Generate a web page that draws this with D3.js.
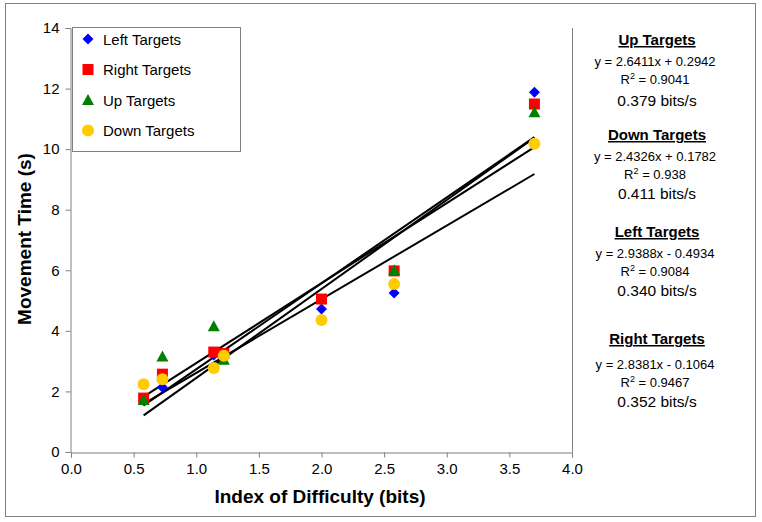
<!DOCTYPE html>
<html><head><meta charset="utf-8">
<script src="https://cdn.jsdelivr.net/npm/d3@7"></script>
<style>
html,body{margin:0;padding:0;background:#fff;}
text{font-family:Arial,"Liberation Sans",sans-serif;}
</style></head>
<body>
<svg id="chart" width="762" height="522"></svg>
<script>
const seriesNames = ["Left Targets","Right Targets","Up Targets","Down Targets"];
const seriesColors = ["#0000FF","#FF0000","#008000","#FFCC00"];
const seriesShapes = ["diamond","square","triangle","circle"];
const leftX = [0.58,0.73,1.14,1.22,2.0,2.58,3.70];
const leftY = [1.70,2.14,3.20,3.10,4.72,5.25,11.88];
const rightX = [0.58,0.73,1.14,1.22,2.0,2.58,3.70];
const rightY = [1.78,2.57,3.30,3.25,5.05,5.98,11.49];
const upX = [0.58,0.73,1.14,1.22,2.58,3.70];
const upY = [1.72,3.15,4.15,3.05,6.00,11.22];
const downX = [0.58,0.73,1.14,1.22,2.0,2.58,3.70];
const downY = [2.24,2.40,2.77,3.18,4.36,5.55,10.18];
const slopes = [2.9388,2.8381,2.6411,2.4326];
const intercepts = [-0.4934,-0.1064,0.2942,0.1782];
const xTicks = [0,0.5,1,1.5,2,2.5,3,3.5,4];
const yTicks = [0,2,4,6,8,10,12,14];
// side annotations (Up, Down, Left, Right order)
const annTitles = ["Up Targets","Down Targets","Left Targets","Right Targets"];
const annEq = ["y = 2.6411x + 0.2942","y = 2.4326x + 0.1782","y = 2.9388x - 0.4934","y = 2.8381x - 0.1064"];
const annR2 = ["0.9041","0.938","0.9084","0.9467"];
const annTP = ["0.379 bits/s","0.411 bits/s","0.340 bits/s","0.352 bits/s"];

const xs = [leftX,rightX,upX,downX], ys=[leftY,rightY,upY,downY];
const svg = d3.select("#chart");
svg.append("rect").attr("x",5.5).attr("y",3.5).attr("width",750).attr("height",513)
  .attr("fill","#fff").attr("stroke","#808080").attr("stroke-width",1);

const x = d3.scaleLinear().domain([0,4]).range([71,572]);
const y = d3.scaleLinear().domain([0,14]).range([452,28]);

svg.append("line").attr("x1",572.5).attr("x2",572.5).attr("y1",28).attr("y2",452).attr("stroke","#808080");

const gx = svg.append("g").attr("transform","translate(0,452.5)")
  .call(d3.axisBottom(x).tickValues(xTicks).tickFormat(d3.format(".1f")).tickSizeOuter(0).tickSize(5).tickPadding(6));
const gy = svg.append("g").attr("transform","translate(70.5,0)")
  .call(d3.axisLeft(y).tickValues(yTicks).tickSizeOuter(0).tickSize(5).tickPadding(6));
[gx,gy].forEach(g=>{
  g.select(".domain").attr("stroke","#808080");
  g.selectAll(".tick line").attr("stroke","#808080");
  g.selectAll(".tick text").attr("font-size",15).attr("fill","#000").attr("font-family","Arial, 'Liberation Sans', sans-serif");
});

seriesNames.forEach((n,i)=>{
  const x0 = d3.min(xs[i]), x1 = d3.max(xs[i]);
  svg.append("line").attr("x1",x(x0)).attr("y1",y(slopes[i]*x0+intercepts[i]))
    .attr("x2",x(x1)).attr("y2",y(slopes[i]*x1+intercepts[i]))
    .attr("stroke","#000").attr("stroke-width",2);
});

function marker(g, shape, color, cx, cy){
  if(shape==="diamond") g.append("path").attr("d",`M${cx},${cy-5.5}L${cx+5.5},${cy}L${cx},${cy+5.5}L${cx-5.5},${cy}Z`).attr("fill",color);
  else if(shape==="square") g.append("rect").attr("x",cx-5.5).attr("y",cy-5.5).attr("width",11).attr("height",11).attr("fill",color);
  else if(shape==="triangle") g.append("path").attr("d",`M${cx},${cy-6}L${cx+6},${cy+5}L${cx-6},${cy+5}Z`).attr("fill",color);
  else g.append("circle").attr("cx",cx).attr("cy",cy).attr("r",6).attr("fill",color);
}
const pts = svg.append("g");
seriesNames.forEach((n,i)=>{
  xs[i].forEach((xv,j)=>marker(pts, seriesShapes[i], seriesColors[i], x(xv), y(ys[i][j])));
});

const lg = svg.append("g");
lg.append("rect").attr("x",72.5).attr("y",27.5).attr("width",168).attr("height",124)
  .attr("fill","#fff").attr("stroke","#808080");
seriesNames.forEach((n,i)=>{
  const cy = 39 + i*30.5;
  marker(lg, seriesShapes[i], seriesColors[i], 88, cy);
  lg.append("text").attr("x",103).attr("y",cy+5.5).attr("font-size",15).text(n);
});

svg.append("text").attr("x",320).attr("y",503).attr("text-anchor","middle")
  .attr("font-size",19).attr("font-weight","bold").text("Index of Difficulty (bits)");
svg.append("text").attr("transform","translate(31,239) rotate(-90)").attr("text-anchor","middle")
  .attr("font-size",19).attr("font-weight","bold").text("Movement Time (s)");

const tops = [40,135,232,339];
annTitles.forEach((t,i)=>{
  const cx = 657, t0 = tops[i];
  svg.append("text").attr("x",cx).attr("y",t0+5).attr("text-anchor","middle")
    .attr("font-size",15).attr("font-weight","bold").attr("text-decoration","underline").text(t);
  const gap = i===3 ? 26 : 22;
  svg.append("text").attr("x",cx-2).attr("y",t0+gap+4).attr("text-anchor","middle").attr("font-size",13).text(annEq[i]);
  const r = svg.append("text").attr("x",cx-2).attr("y",t0+gap+22).attr("text-anchor","middle").attr("font-size",13);
  r.append("tspan").text("R");
  r.append("tspan").attr("font-size",9).attr("dy",-5).text("2");
  r.append("tspan").attr("dy",5).text(" = "+annR2[i]);
  svg.append("text").attr("x",cx).attr("y",t0+gap+44+(i===0?0:-2)).attr("text-anchor","middle").attr("font-size",15.5).text(annTP[i]);
});
</script>
</body></html>
